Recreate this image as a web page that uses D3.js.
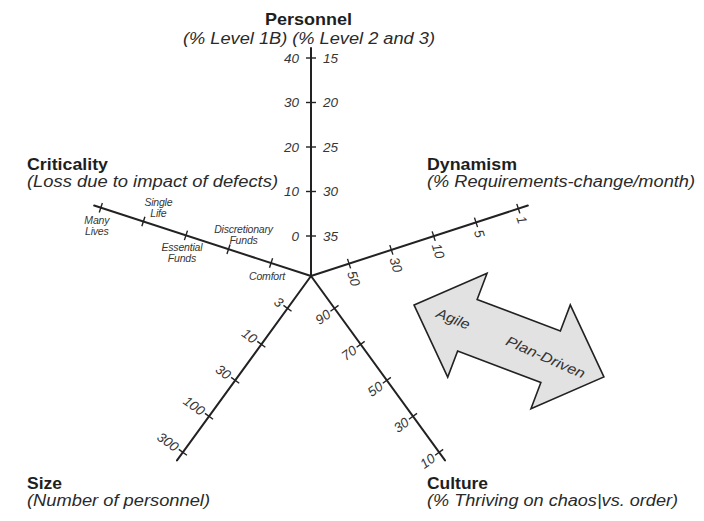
<!DOCTYPE html>
<html>
<head>
<meta charset="utf-8">
<script src="https://cdn.jsdelivr.net/npm/d3@7/dist/d3.min.js"></script>
<style>
  html, body { margin: 0; padding: 0; background: #fff; }
  svg { display: block; font-family: "Liberation Sans", Arial, sans-serif; }
</style>
</head>
<body>
<svg id="chart" width="704" height="521"></svg>
<script>
// ---- data ----
const personnelLeft = [0, 10, 20, 30, 40];          // % Level 1B
const personnelRight = [35, 30, 25, 20, 15];        // % Level 2 and 3
const dynamismTicks = [50, 30, 10, 5, 1];           // % requirements change / month
const cultureTicks = [90, 70, 50, 30, 10];          // % thriving on chaos
const sizeTicks = [3, 10, 30, 100, 300];            // number of personnel
const criticalityTicks = ["Comfort", "Discretionary Funds", "Essential Funds", "Single Life", "Many Lives"];
const axisNames = ["Personnel", "Dynamism", "Culture", "Size", "Criticality"];
const axisSubtitles = [
  "(% Level 1B) (% Level 2 and 3)",
  "(% Requirements-change/month)",
  "(% Thriving on chaos|vs. order)",
  "(Number of personnel)",
  "(Loss due to impact of defects)"
];
const arrowLabels = ["Agile", "Plan-Driven"];

// ---- layout ----
const svg = d3.select("#chart");
const cx = 311, cy = 276;
const axisLen = 228;
const ink = "#222";
const labelInk = "#363636";

const dir = a => { const r = a * Math.PI / 180; return [Math.cos(r), -Math.sin(r)]; };
const pt = (a, r) => { const d = dir(a); return [cx + d[0] * r, cy + d[1] * r]; };

const rng = [40, 218];
const sPersL = d3.scaleLinear().domain([0, 40]).range(rng);
const sPersR = d3.scaleLinear().domain([35, 15]).range(rng);
const sDyn = d3.scalePoint().domain(dynamismTicks).range(rng);
const sCul = d3.scaleLinear().domain([90, 10]).range(rng);
const sSize = d3.scalePoint().domain(sizeTicks).range(rng);
const sCrit = d3.scalePoint().domain(criticalityTicks).range([42, 221]);

const axes = [
  { angle: 90, scale: sPersL, ticks: personnelLeft },
  { angle: 18, scale: sDyn, ticks: dynamismTicks },
  { angle: -54, scale: sCul, ticks: cultureTicks },
  { angle: -126, scale: sSize, ticks: sizeTicks },
  { angle: 162, scale: sCrit, ticks: criticalityTicks }
];

// axis lines
const gAxes = svg.append("g");
axes.forEach(ax => {
  const e = pt(ax.angle, axisLen);
  gAxes.append("line")
    .attr("x1", cx).attr("y1", cy).attr("x2", e[0]).attr("y2", e[1])
    .attr("stroke", ink).attr("stroke-width", 2).attr("stroke-linecap", "round");
  const d = dir(ax.angle);
  const n = [-d[1], d[0]];
  ax.ticks.forEach(t => {
    const p = pt(ax.angle, ax.scale(t));
    gAxes.append("line")
      .attr("x1", p[0] - n[0] * 5).attr("y1", p[1] - n[1] * 5)
      .attr("x2", p[0] + n[0] * 5).attr("y2", p[1] + n[1] * 5)
      .attr("stroke", ink).attr("stroke-width", 1.4);
  });
});

const gLab = svg.append("g").attr("fill", labelInk).attr("font-style", "italic");

// Personnel labels
personnelLeft.forEach(t => {
  const p = pt(90, sPersL(t));
  gLab.append("text").attr("x", p[0] - 12).attr("y", p[1]).attr("dy", "0.36em")
    .attr("text-anchor", "end").attr("font-size", 13.5).text(t);
});
personnelRight.forEach(t => {
  const p = pt(90, sPersR(t));
  gLab.append("text").attr("x", p[0] + 12).attr("y", p[1]).attr("dy", "0.36em")
    .attr("text-anchor", "start").attr("font-size", 13.5).text(t);
});
// Dynamism labels
dynamismTicks.forEach(t => {
  const p = pt(18, sDyn(t));
  gLab.append("text").attr("transform", `translate(${p[0]},${p[1]}) rotate(72)`)
    .attr("x", 8).attr("dy", "0.36em").attr("text-anchor", "start")
    .attr("font-size", 13.5).text(t);
});
// Culture labels
cultureTicks.forEach(t => {
  const p = pt(-54, sCul(t));
  gLab.append("text").attr("transform", `translate(${p[0]},${p[1]}) rotate(-36)`)
    .attr("x", -7).attr("dy", "0.36em").attr("text-anchor", "end")
    .attr("font-size", 13.5).text(t);
});
// Size labels
sizeTicks.forEach(t => {
  const p = pt(-126, sSize(t));
  gLab.append("text").attr("transform", `translate(${p[0]},${p[1]}) rotate(36)`)
    .attr("x", -7).attr("dy", "0.36em").attr("text-anchor", "end")
    .attr("font-size", 13.5).text(t);
});
// Criticality labels (alternating below / above)
criticalityTicks.forEach((t, i) => {
  const p = pt(162, sCrit(t));
  const words = t.split(" ");
  const below = i % 2 === 0;
  const tx = gLab.append("text").attr("text-anchor", "middle").attr("font-size", 10.5)
    .attr("letter-spacing", -0.2);
  if (below) {
    words.forEach((w, k) => {
      tx.append("tspan").attr("x", p[0] - 4).attr("y", p[1] + (words.length === 1 ? 17 : 16 + k * 11)).text(w);
    });
  } else {
    words.forEach((w, k) => {
      tx.append("tspan").attr("x", p[0] + 15).attr("y", p[1] - 16 + k * 11).text(w);
    });
  }
});

// ---- axis titles ----
const titles = [
  { x: 308.5, y: 25, anchor: "middle", w: 87, sx: 309, sy: 44, sw: 252 },
  { x: 427, y: 170, anchor: "start", w: 90, sx: 427, sy: 187, sw: 268 },
  { x: 427, y: 489, anchor: "start", w: 61, sx: 427, sy: 506, sw: 251 },
  { x: 27, y: 489, anchor: "start", w: 35, sx: 27, sy: 506, sw: 183 },
  { x: 27, y: 170, anchor: "start", w: 81, sx: 27, sy: 187, sw: 251 }
];
const gT = svg.append("g");
axisNames.forEach((name, i) => {
  const t = titles[i];
  gT.append("text").attr("x", t.x).attr("y", t.y).attr("text-anchor", t.anchor)
    .attr("font-weight", "bold").attr("font-size", 17).attr("fill", "#1e1e1e")
    .attr("textLength", t.w).attr("lengthAdjust", "spacingAndGlyphs").text(name);
  gT.append("text").attr("x", t.sx).attr("y", t.sy).attr("text-anchor", t.anchor)
    .attr("font-style", "italic").attr("font-size", 16).attr("fill", "#2a2a2a")
    .attr("textLength", t.sw).attr("lengthAdjust", "spacingAndGlyphs").text(axisSubtitles[i]);
});

// ---- double-headed arrow ----
const A = { x: 509, y: 341, angle: 20.75, half: 101.5, head: 57, headW: 55.5, shaftW: 27.5 };
const local = [
  [-A.half, 0], [-A.half + A.head, -A.headW], [-A.half + A.head, -A.shaftW],
  [A.half - A.head, -A.shaftW], [A.half - A.head, -A.headW], [A.half, 0],
  [A.half - A.head, A.headW], [A.half - A.head, A.shaftW],
  [-A.half + A.head, A.shaftW], [-A.half + A.head, A.headW]
];
const gA = svg.append("g").attr("transform", `translate(${A.x},${A.y}) rotate(${A.angle})`);
gA.append("path").attr("d", d3.line()(local) + "Z")
  .attr("fill", "#e2e2e2").attr("stroke", ink).attr("stroke-width", 1.6)
  .attr("stroke-linejoin", "miter");
gA.append("text").attr("x", -60).attr("y", 0).attr("dy", "0.35em").attr("text-anchor", "middle")
  .attr("font-style", "italic").attr("font-size", 14).attr("fill", "#333")
  .attr("transform", "rotate(1)")
  .attr("textLength", 35).attr("lengthAdjust", "spacingAndGlyphs").text(arrowLabels[0]);
gA.append("text").attr("x", 40).attr("y", 0).attr("dy", "0.35em").attr("text-anchor", "middle")
  .attr("font-style", "italic").attr("font-size", 14).attr("fill", "#333")
  .attr("transform", "rotate(3)")
  .attr("textLength", 85).attr("lengthAdjust", "spacingAndGlyphs").text(arrowLabels[1]);
</script>
</body>
</html>
